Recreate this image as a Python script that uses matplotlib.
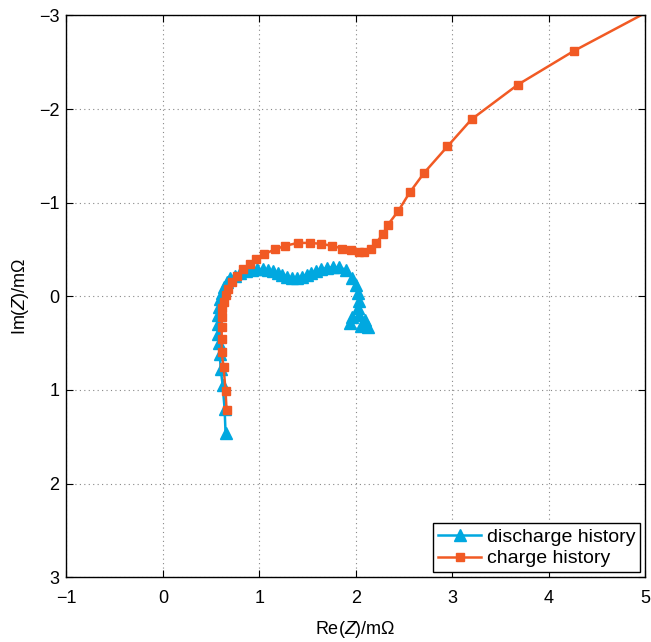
import numpy as np
import matplotlib.pyplot as plt

plt.rcParams['font.family'] = ['Liberation Sans', 'DejaVu Sans']
plt.rcParams['mathtext.fontset'] = 'custom'
plt.rcParams['mathtext.rm'] = 'Liberation Sans'
plt.rcParams['mathtext.it'] = 'Liberation Sans:italic'

# discharge history (Re, Im) in mOhm
dis_re = [0.65, 0.64, 0.62, 0.60, 0.59, 0.58, 0.57, 0.57, 0.57, 0.58, 0.59, 0.61,
          0.63, 0.66, 0.70, 0.75, 0.80, 0.86, 0.92, 0.98, 1.04, 1.09, 1.14, 1.19,
          1.24, 1.29, 1.34, 1.39, 1.44, 1.49, 1.54, 1.59, 1.64, 1.70, 1.76, 1.83,
          1.90, 1.96, 2.00, 2.02, 2.03, 2.02, 1.96, 1.94, 2.03, 2.10, 2.13, 2.05]
dis_im = [1.46, 1.20, 0.95, 0.78, 0.62, 0.50, 0.40, 0.30, 0.20, 0.11, 0.03, -0.04,
          -0.10, -0.15, -0.19, -0.22, -0.25, -0.27, -0.28, -0.29, -0.29, -0.28, -0.27, -0.25,
          -0.23, -0.21, -0.20, -0.20, -0.21, -0.23, -0.25, -0.27, -0.29, -0.30, -0.31, -0.31,
          -0.28, -0.20, -0.12, -0.04, 0.05, 0.13, 0.22, 0.29, 0.20, 0.25, 0.33, 0.32]

# charge history
chg_re = [0.66, 0.65, 0.63, 0.61, 0.61, 0.61, 0.61, 0.61, 0.63, 0.65, 0.68, 0.72,
          0.77, 0.83, 0.90, 0.97, 1.05, 1.16, 1.27, 1.40, 1.53, 1.64, 1.75, 1.86,
          1.95, 2.03, 2.09, 2.16, 2.21, 2.28, 2.33, 2.44, 2.56, 2.71, 2.95, 3.20,
          3.68, 4.26, 5.10]
chg_im = [1.21, 1.01, 0.76, 0.60, 0.46, 0.33, 0.22, 0.13, 0.06, -0.01, -0.08, -0.15,
          -0.22, -0.29, -0.35, -0.40, -0.45, -0.50, -0.54, -0.57, -0.57, -0.56, -0.54, -0.51,
          -0.49, -0.47, -0.47, -0.51, -0.57, -0.66, -0.76, -0.91, -1.11, -1.32, -1.60, -1.89,
          -2.26, -2.62, -3.08]

fig = plt.figure(figsize=(6.51, 6.42), dpi=100)
ax = fig.add_axes([0.102, 0.101, 0.889, 0.875])

ax.plot(dis_re, dis_im, '-^', color='#00A8E0', lw=1.8, ms=8, label='discharge history')
ax.plot(chg_re, chg_im, '-s', color='#F15A24', lw=1.8, ms=6, label='charge history')

ax.set_xlim(-1, 5)
ax.set_ylim(3, -3)
ax.set_xticks(np.arange(-1, 6, 1))
ax.set_yticks(np.arange(-3, 4, 1))
ax.grid(True, linestyle=(0, (1, 3)), color='#888888', lw=0.8)
ax.tick_params(direction='in', top=True, right=True, labelsize=13, length=5)
ax.tick_params(axis='x', pad=9)
ax.tick_params(axis='y', pad=5)
for s in ax.spines.values():
    s.set_linewidth(1.0)

ax.set_xlabel('Re($\\mathit{Z}$)/m\u03a9', fontsize=13, labelpad=9)
ax.set_ylabel('Im($\\mathit{Z}$)/m\u03a9', fontsize=13, labelpad=6)

leg = ax.legend(loc='lower right', fontsize=14, fancybox=False, framealpha=1,
                edgecolor='black', borderaxespad=0.25, handlelength=2.2,
                borderpad=0.25, labelspacing=0.2, handletextpad=0.3)
leg.get_frame().set_linewidth(1.0)

fig.savefig('out.png', dpi=100)
